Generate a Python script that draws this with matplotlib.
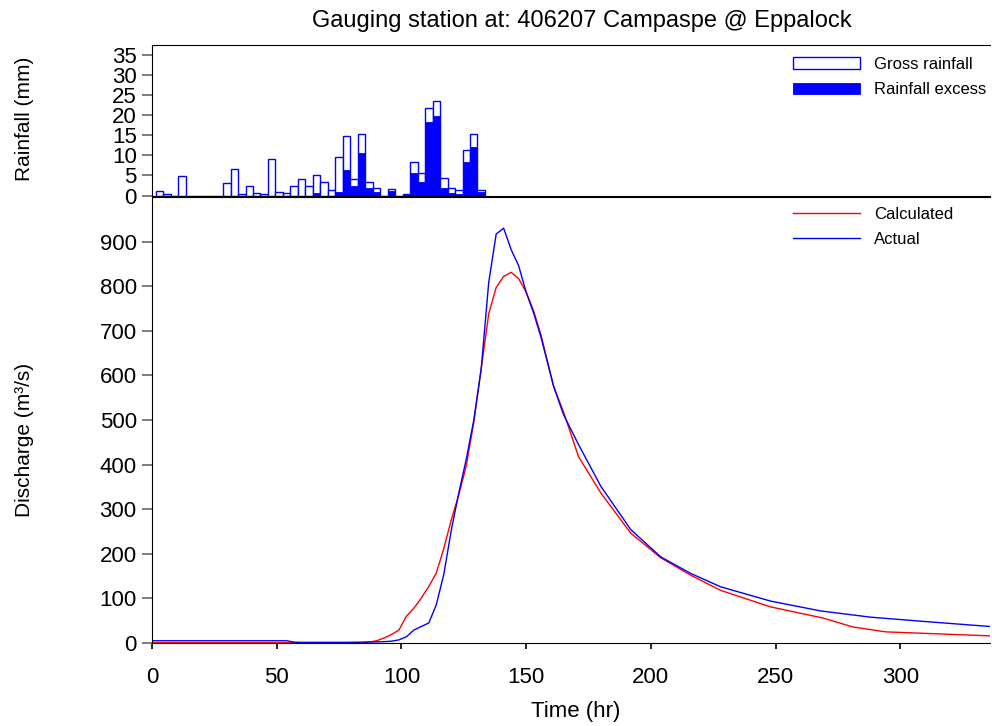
import numpy as np
import matplotlib
matplotlib.use("Agg")
import matplotlib.pyplot as plt

plt.rcParams["font.family"] = ["Liberation Sans", "DejaVu Sans"]

# ── Rainfall (3-hourly bars) ──
rain_t = [3, 6, 9, 12, 15, 18, 21, 24, 27, 30, 33, 36, 39, 42, 45,
          48, 51, 54, 57, 60, 63, 66, 69, 72, 75, 78, 81, 84, 87, 90,
          93, 96, 99, 102, 105, 108, 111, 114, 117, 120, 123, 126, 129, 132]
gross_rain = [1.0, 0.25, 0, 4.75, 0, 0, 0, 0, 0, 3.0, 6.6, 0.25, 2.35, 0.5, 0.25,
              9.0, 0.75, 0.5, 2.4, 4.0, 2.4, 5.0, 3.25, 1.35, 9.6, 14.9, 4.0, 15.2, 3.3, 1.85,
              0, 1.5, 0, 0.35, 8.35, 5.5, 21.9, 23.6, 4.4, 1.9, 1.4, 11.4, 15.3, 1.4]
excess_rain = [0, 0, 0, 0, 0, 0, 0, 0, 0, 0, 0, 0, 0, 0, 0,
               0, 0, 0, 0, 0, 0, 0.6, 0, 0, 0.9, 6.4, 2.25, 10.7, 1.9, 0.9,
               0, 1.0, 0, 0.3, 5.7, 3.4, 18.4, 19.9, 1.75, 0.6, 0.3, 8.25, 12.0, 0.75]

# ── Discharge hydrographs ──
actual_t = [0, 54, 57, 60, 66, 72, 78, 84, 90, 93, 96, 99, 102, 105, 108, 111, 114,
            117, 120, 123, 126, 129, 132, 135, 138, 141, 144, 147, 150, 153, 156,
            161, 165, 171, 180, 192, 204, 216, 228, 248, 268, 288, 308, 336]
actual_q = [5, 5, 2, 1.5, 1.5, 1.5, 1.5, 2, 2.5, 3, 4, 7, 14, 29, 37, 45, 86,
            154, 253, 336, 412, 499, 615, 808, 917, 930, 882, 846, 787, 740, 685,
            576, 512, 445, 351, 254, 193, 156, 126, 94, 72, 58, 49, 37]

calc_t = [0, 84, 87, 90, 93, 96, 99, 102, 105, 108, 111, 114, 117, 120, 123, 126,
          129, 132, 135, 138, 141, 144, 147, 150, 153, 156, 161, 165, 171, 180,
          192, 204, 216, 228, 248, 269, 281, 294, 308, 336]
calc_q = [0.5, 0.5, 2, 5, 11, 19, 29, 60, 78, 101, 127, 157, 212, 276, 332, 397,
          494, 615, 738, 797, 822, 831, 817, 787, 745, 690, 576, 518, 418, 336,
          246, 191, 152, 118, 81, 56, 36, 25, 22, 16]

BLUE = "#0000FF"
RED = "#FF0000"

fig = plt.figure(figsize=(9.92, 7.26), dpi=100)
W, H = 992, 726
ax_r = fig.add_axes([152 / W, 1 - 195.5 / H, 838 / W, 150.5 / H])
ax_q = fig.add_axes([152 / W, 1 - 643 / H, 838 / W, 446 / H])

# ── Top: rainfall ──
ax_r.bar(rain_t, gross_rain, width=3, facecolor="white", edgecolor=BLUE,
         linewidth=1.0, label="Gross rainfall")
ax_r.bar(rain_t, excess_rain, width=3, facecolor=BLUE, edgecolor=BLUE,
         linewidth=0.6, label="Rainfall excess")
ax_r.set_xlim(0, 336)
ax_r.set_ylim(0, 37.5)
ax_r.set_yticks(np.arange(0, 36, 5))
ax_r.set_xticks([])
ax_r.spines["right"].set_visible(False)
ax_r.tick_params(axis="y", direction="out", length=7, width=1.2, color="#666666",
                 labelsize=16, pad=4)
ax_r.legend(loc="upper left", bbox_to_anchor=(793 / W, 1 - 57 / H),
            bbox_transform=fig.transFigure, frameon=False, fontsize=12,
            handlelength=4.0, handletextpad=0.85, labelspacing=0.62,
            borderpad=0, borderaxespad=0)

# ── Bottom: discharge ──
ax_q.plot(calc_t, calc_q, color=RED, linewidth=1.0, label="Calculated")
ax_q.plot(actual_t, actual_q, color=BLUE, linewidth=1.0, label="Actual")
ax_q.set_xlim(0, 336)
ax_q.set_ylim(0, 1000)
ax_q.set_yticks(np.arange(0, 901, 100))
ax_q.set_xticks(np.arange(0, 301, 50))
ax_q.spines["right"].set_visible(False)
ax_q.tick_params(axis="y", direction="out", length=7, width=1.2, color="#666666",
                 labelsize=16, pad=4)
ax_q.tick_params(axis="x", direction="out", length=4, width=1.2,
                 labelsize=16, pad=13)
ax_q.legend(loc="upper left", bbox_to_anchor=(793 / W, 1 - 207 / H),
            bbox_transform=fig.transFigure, frameon=False, fontsize=12,
            handlelength=4.0, handletextpad=0.85, labelspacing=0.62,
            borderpad=0, borderaxespad=0)

fig.text(582 / W, 1 - 21 / H, "Gauging station at: 406207 Campaspe @ Eppalock",
         ha="center", va="center", fontsize=17)
fig.text(25 / W, 1 - 119 / H, "Rainfall (mm)", rotation=90,
         ha="center", va="center", fontsize=15)
fig.text(25 / W, 1 - 440 / H, "Discharge (m³/s)", rotation=90,
         ha="center", va="center", fontsize=15)
fig.text(576 / W, 1 - 712 / H, "Time (hr)", ha="center", va="center", fontsize=16)

fig.savefig("out.png", dpi=100)
